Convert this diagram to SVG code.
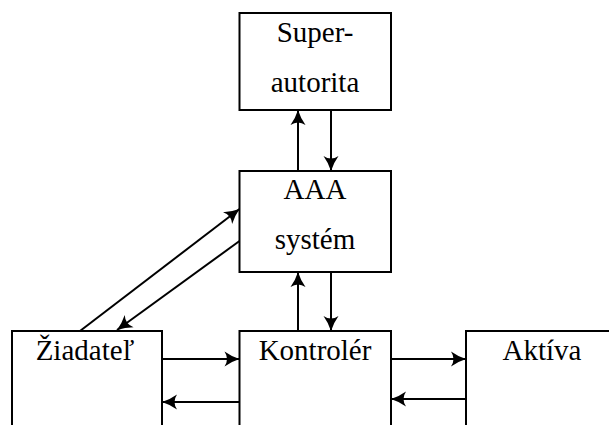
<svg xmlns="http://www.w3.org/2000/svg" width="609" height="425" viewBox="0 0 609 425">
<style>
.box{fill:#fff;stroke:#000;stroke-width:2}
text{font-family:'Liberation Serif','Times New Roman',Times,serif;font-size:29px;fill:#000;text-anchor:middle}
.c{stroke:#000;stroke-width:2;fill:none}
</style>
<defs>
<marker id="ah" markerUnits="userSpaceOnUse" markerWidth="20" markerHeight="20" refX="15" refY="7.5" orient="auto" overflow="visible">
<path d="M0,0 Q7,5 15,7.5 Q7,10 0,15 Q5,7.5 0,0 Z" fill="#000"/>
</marker>
</defs>
<rect width="609" height="425" fill="#fff"/>
<g id="super">
<rect class="box" x="239.5" y="13" width="151.5" height="97"/>
<text x="315" y="42">Super-</text>
<text x="315" y="92">autorita</text>
</g>
<g id="aaa">
<rect class="box" x="239.5" y="171" width="151.5" height="101"/>
<text x="315" y="199">AAA</text>
<text x="315" y="249">systém</text>
</g>
<g id="ziadatel">
<rect class="box" x="12" y="331" width="150" height="110"/>
<text x="85" y="360">Žiadateľ</text>
</g>
<g id="kontroler">
<rect class="box" x="239.5" y="331" width="151.5" height="110"/>
<text x="315" y="360">Kontrolér</text>
</g>
<g id="aktiva">
<rect class="box" x="466" y="331" width="160" height="110"/>
<text x="542" y="360">Aktíva</text>
</g>
<g id="connectors">
<line class="c" marker-end="url(#ah)" x1="298" y1="171" x2="298" y2="110"/>
<line class="c" marker-end="url(#ah)" x1="331" y1="110" x2="331" y2="171"/>
<line class="c" marker-end="url(#ah)" x1="298" y1="331" x2="298" y2="272"/>
<line class="c" marker-end="url(#ah)" x1="331" y1="272" x2="331" y2="331"/>
<line class="c" marker-end="url(#ah)" x1="80" y1="331" x2="239.5" y2="209"/>
<line class="c" marker-end="url(#ah)" x1="239.5" y1="241" x2="117" y2="330"/>
<line class="c" marker-end="url(#ah)" x1="162" y1="359" x2="239.5" y2="359"/>
<line class="c" marker-end="url(#ah)" x1="239.5" y1="402" x2="162" y2="402"/>
<line class="c" marker-end="url(#ah)" x1="391" y1="359" x2="466" y2="359"/>
<line class="c" marker-end="url(#ah)" x1="466" y1="399" x2="391" y2="399"/>
</g>
</svg>
